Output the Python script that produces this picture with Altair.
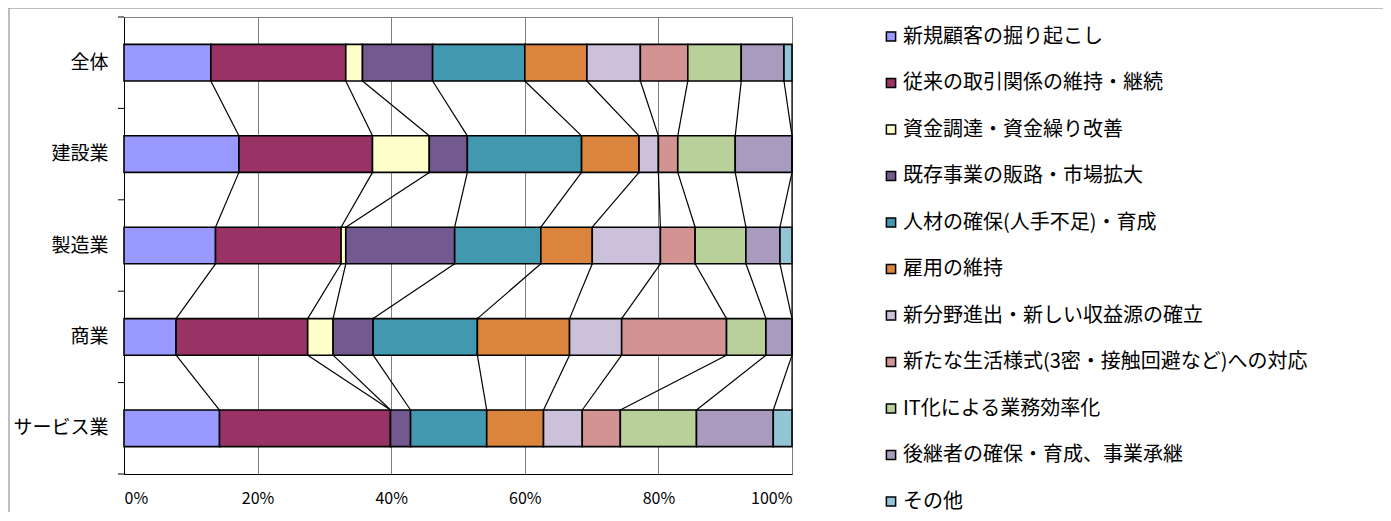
import altair as alt
import pandas as pd

categories = ["全体", "建設業", "製造業", "商業", "サービス業"]
series = [
    "新規顧客の掘り起こし",
    "従来の取引関係の維持・継続",
    "資金調達・資金繰り改善",
    "既存事業の販路・市場拡大",
    "人材の確保(人手不足)・育成",
    "雇用の維持",
    "新分野進出・新しい収益源の確立",
    "新たな生活様式(3密・接触回避など)への対応",
    "IT化による業務効率化",
    "後継者の確保・育成、事業承継",
    "その他",
]
colors = ["#9999FF", "#993366", "#FFFFCC", "#725990", "#4198AF", "#DB843D",
          "#CCC1DA", "#D49393", "#BAD09A", "#A99BBD", "#93C5D6"]

v_all = [13.0, 20.2, 2.5, 10.5, 13.8, 9.3, 8.0, 7.1, 8.0, 6.4, 1.2]
v_con = [17.2, 20.0, 8.5, 5.7, 17.1, 8.6, 2.9, 2.9, 8.6, 8.5, 0.0]
v_mfg = [13.7, 18.8, 0.7, 16.3, 12.9, 7.7, 10.2, 5.2, 7.6, 5.1, 1.8]
v_com = [7.8, 19.7, 3.8, 6.0, 15.6, 13.8, 7.8, 15.7, 5.9, 3.9, 0.0]
v_svc = [14.3, 25.6, 0.0, 3.0, 11.4, 8.5, 5.8, 5.7, 11.4, 11.5, 2.8]
values = [v_all, v_con, v_mfg, v_com, v_svc]

x_ticks = [0, 20, 40, 60, 80, 100]

# style constants
W, H = 668, 457
PAD_INNER = 0.6
PAD_OUTER = 0.3
FONT = "Noto Sans CJK JP"
NSTEP = len(categories) - PAD_INNER + 2 * PAD_OUTER

rows = []
cums = []
for cat, vals in zip(categories, values):
    start = 0.0
    cum = []
    for si, (s, v) in enumerate(zip(series, vals)):
        rows.append(dict(cat=cat, series=s, start=start, end=start + v, order=si))
        start += v
        cum.append(start)
    cums.append(cum)
bars_df = pd.DataFrame(rows)

conn = []
for ci in range(len(categories) - 1):
    for si in range(len(series)):
        conn.append(dict(x1=cums[ci][si], x2=cums[ci + 1][si],
                         y1=ci + PAD_OUTER + (1 - PAD_INNER),
                         y2=ci + 1 + PAD_OUTER))
conn_df = pd.DataFrame(conn)

tick_df = pd.DataFrame({"yb": [i + PAD_OUTER - PAD_INNER / 2 for i in range(len(categories) + 1)]})

xscale = alt.Scale(domain=[0, 100], nice=False, zero=False)
qscale = alt.Scale(domain=[0, NSTEP], reverse=True, nice=False, zero=False)

frame = alt.Chart(pd.DataFrame({"a": [0]})).mark_rect(
    fillOpacity=0, stroke="#7f7f7f", strokeWidth=1
).encode(
    x=alt.value(-115), x2=alt.value(W + 700), y=alt.value(-9), y2=alt.value(H + 200)
)

bars = alt.Chart(bars_df).mark_bar(stroke="black", strokeWidth=1.6).encode(
    x=alt.X("start:Q", scale=xscale,
            axis=alt.Axis(title=None, values=x_ticks, labelExpr="datum.value + '%'",
                          grid=True, gridColor="#808080", gridWidth=1, ticks=False,
                          domainColor="black", labelFont=FONT, labelFontSize=16,
                          labelColor="black", labelPadding=16)),
    x2="end:Q",
    y=alt.Y("cat:N", sort=categories,
            scale=alt.Scale(paddingInner=PAD_INNER, paddingOuter=PAD_OUTER),
            axis=alt.Axis(title=None, ticks=False, domainColor="black", labelFont=FONT,
                          labelFontSize=19, labelColor="black", labelPadding=16)),
    color=alt.Color("series:N", scale=alt.Scale(domain=series, range=colors),
                    legend=alt.Legend(title=None, orient="none", legendX=757, legendY=9.5,
                                      symbolType="square", symbolSize=85,
                                      symbolStrokeColor="black", symbolStrokeWidth=1.5,
                                      labelFont=FONT, labelFontSize=20, labelColor="black",
                                      labelLimit=700, rowPadding=26.5, labelOffset=2,
                                      padding=0)),
    order=alt.Order("order:Q"),
)

connectors = alt.Chart(conn_df).mark_rule(color="black", strokeWidth=1.2).encode(
    x=alt.X("x1:Q", scale=xscale),
    x2="x2:Q",
    y=alt.Y("y1:Q", scale=qscale, axis=None),
    y2="y2:Q",
)

ticks = alt.Chart(tick_df).mark_rule(color="black", strokeWidth=1).encode(
    x=alt.value(-6), x2=alt.value(0),
    y=alt.Y("yb:Q", scale=qscale, axis=None),
)

chart = alt.layer(frame, bars, connectors, ticks).resolve_scale(y="independent").properties(
    width=W, height=H,
    autosize=alt.AutoSizeParams(type="none"),
    padding={"left": 116, "top": 9, "right": 591, "bottom": 38},
).configure_view(stroke="#808080", strokeWidth=1)

chart.save("out.html", embed_options={"renderer": "svg", "actions": False})
